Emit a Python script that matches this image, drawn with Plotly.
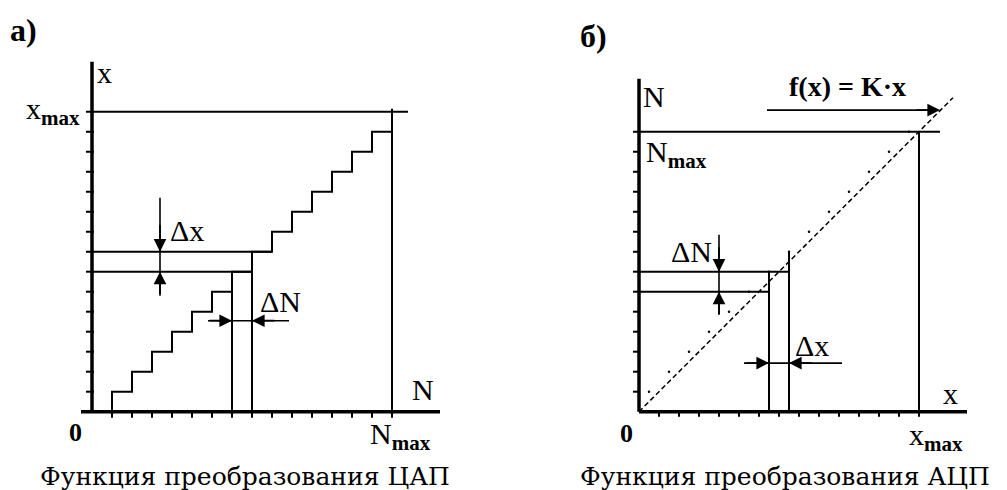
import plotly.graph_objects as go

# а) DAC transfer function (code N -> output x)
dac_code = [1, 2, 3, 4, 5, 6, 7, 8, 9, 10, 11, 12, 13, 14, 15]
dac_level = [0, 1, 2, 3, 4, 5, 6, 7, 8, 9, 10, 11, 12, 13, 14]
dac_ticks = [1, 2, 3, 4, 5, 6, 7, 8, 9, 10, 11, 12, 13, 14, 15]
dac_nmax = 15
dac_xmax = 15
dac_guide_codes = [7, 8]

# б) ADC transfer function (input x -> code N)
adc_ticks = [1, 2, 3, 4, 5, 6, 7, 8, 9, 10, 11, 12, 13, 14]
adc_xmax = 14
adc_nmax = 14
adc_K = 1
adc_line_x = [0, 15.7]
adc_dot_x = [0.5, 1.5, 2.5, 3.5, 4.5, 5.5, 6.5, 7.5, 8.5, 9.5, 10.5, 11.5, 12.5, 13.5]
adc_dot_N = [1, 2, 3, 4, 5, 6, 7, 8, 9, 10, 11, 12, 13, 14]
adc_guide_x = [6.5, 7.5]
adc_guide_N = [6, 7]

LBL = "Liberation Serif"
CAP = "DejaVu Serif"
BLK = "black"

# page body has an 8px margin, so the figure is a bit smaller than the window
W, H, OFF = 999, 482, 8

fig = go.Figure()


def seg(x0, y0, x1, y1, xa="x", ya="y", w=2, dash="solid"):
    fig.add_trace(go.Scatter(x=[x0, x1], y=[y0, y1], mode="lines", xaxis=xa, yaxis=ya,
                             line=dict(color=BLK, width=w, dash=dash), hoverinfo="skip"))


def ticks(vals, horiz, a, b, xa, ya):
    xs, ys = [], []
    for v in vals:
        if horiz:
            xs += [v, v, None]
            ys += [a, b, None]
        else:
            xs += [a, b, None]
            ys += [v, v, None]
    fig.add_trace(go.Scatter(x=xs, y=ys, mode="lines", xaxis=xa, yaxis=ya,
                             line=dict(color=BLK, width=2), hoverinfo="skip"))


def arrow(tip, tail, xa, ya):
    fig.add_annotation(x=tip[0], y=tip[1], ax=tail[0], ay=tail[1], xref=xa, yref=ya,
                       axref=xa, ayref=ya, text="", showarrow=True, arrowhead=2,
                       arrowsize=1.4, arrowwidth=1.8, arrowcolor=BLK)


def label(x, y, text, xa, ya, size=30, xanchor="center", bold=False, font=LBL):
    if bold:
        text = "<b>" + text + "</b>"
    fig.add_annotation(x=x, y=y, xref=xa, yref=ya, text=text, showarrow=False,
                       xanchor=xanchor, yanchor="middle", yshift=1,
                       font=dict(family=font, size=size, color=BLK))


def page_text(sx, sy, text, size, font, bold=False):
    if bold:
        text = "<b>" + text + "</b>"
    fig.add_annotation(x=(sx - OFF) / W, y=1 - (sy - OFF) / H, xref="paper", yref="paper",
                       text=text, showarrow=False, xanchor="left", yanchor="middle",
                       font=dict(family=font, size=size, color=BLK))


# ---------- panel а) ----------
seg(0, 0, 0, 17.5, w=3.5)
seg(-0.55, 0, 17.4, 0, w=3.5)
ticks(dac_ticks, False, -0.3, 0.1, "x", "y")
ticks(dac_ticks, True, 0, -0.3, "x", "y")

fig.add_trace(go.Scatter(x=dac_code, y=dac_level, mode="lines", line_shape="vh",
                         line=dict(color=BLK, width=2), hoverinfo="skip"))

# x_max and N_max lines
seg(0, dac_xmax, dac_nmax + 0.8, dac_xmax)
seg(dac_nmax, 0, dac_nmax, dac_xmax + 0.15)

# guides for two neighbouring codes
for k in dac_guide_codes:
    seg(0, k, k + 1, k)
    seg(k, 0, k, k)

lo, hi = dac_guide_codes
# Δx arrow
seg(3.4, 10.7, 3.4, 5.8, w=1.6)
arrow((3.4, hi), (3.4, hi + 1.4), "x", "y")
arrow((3.4, lo), (3.4, lo - 1.2), "x", "y")
label(3.8, 9.0, "Δx", "x", "y", xanchor="left")
# ΔN arrow
seg(5.8, 4.55, 9.85, 4.55, w=1.6)
arrow((lo, 4.55), (lo - 1.2, 4.55), "x", "y")
arrow((hi, 4.55), (hi + 1.2, 4.55), "x", "y")
label(8.3, 5.45, "ΔN", "x", "y", xanchor="left")

label(0.15, 16.9, "x", "x", "y", xanchor="left")
label(-0.5, 15.0, "x<sub><b>max</b></sub>", "x", "y", xanchor="right")
label(16.55, 1.05, "N", "x", "y")
label(15.4, -1.25, "N<sub><b>max</b></sub>", "x", "y")
label(-0.85, -1.1, "0", "x", "y", size=26, bold=True)

# ---------- panel б) ----------
seg(0, 0, 0, 16.65, "x2", "y2", w=3.5)
seg(0, 0, 16.4, 0, "x2", "y2", w=3.5)
ticks(adc_ticks, False, -0.3, 0, "x2", "y2")
ticks(adc_ticks, True, 0, -0.25, "x2", "y2")

fig.add_trace(go.Scatter(x=adc_line_x, y=[adc_K * v for v in adc_line_x], mode="lines",
                         xaxis="x2", yaxis="y2",
                         line=dict(color=BLK, width=1.5, dash="5px,3px"), hoverinfo="skip"))
fig.add_trace(go.Scatter(x=adc_dot_x, y=adc_dot_N, mode="markers", xaxis="x2", yaxis="y2",
                         marker=dict(color=BLK, size=2.5), hoverinfo="skip"))

seg(0, adc_nmax, adc_xmax + 1.05, adc_nmax, "x2", "y2")
seg(adc_xmax, 0, adc_xmax, adc_nmax, "x2", "y2")

for xg, ng in zip(adc_guide_x, adc_guide_N):
    seg(0, ng, xg, ng, "x2", "y2")
    seg(xg, 0, xg, ng + 1, "x2", "y2")

n_lo, n_hi = adc_guide_N
x_lo, x_hi = adc_guide_x
# ΔN arrow
seg(4.0, 8.85, 4.0, 4.85, "x2", "y2", w=1.6)
arrow((4.0, n_hi), (4.0, n_hi + 1.3), "x2", "y2")
arrow((4.0, n_lo), (4.0, n_lo - 1.2), "x2", "y2")
label(3.75, 7.95, "ΔN", "x2", "y2", xanchor="right")
# Δx arrow
seg(5.25, 2.43, 10.15, 2.43, "x2", "y2", w=1.6)
arrow((x_lo, 2.43), (x_lo - 1.2, 2.43), "x2", "y2")
arrow((x_hi, 2.43), (x_hi + 1.2, 2.43), "x2", "y2")
label(7.7, 3.25, "Δx", "x2", "y2", xanchor="left")

# f(x) = K·x pointer
seg(6.4, 15.08, 14.6, 15.08, "x2", "y2", w=1.6)
arrow((15.05, 15.08), (13.8, 15.08), "x2", "y2")
label(10.4, 16.2, "f(x) = K·x", "x2", "y2", size=28, bold=True)

label(0.1, 15.7, "N", "x2", "y2", xanchor="left")
label(0.25, 12.85, "N<sub><b>max</b></sub>", "x2", "y2", xanchor="left")
label(15.55, 0.85, "x", "x2", "y2")
label(14.85, -1.3, "x<sub><b>max</b></sub>", "x2", "y2")
label(-0.65, -1.15, "0", "x2", "y2", size=26, bold=True)

# panel letters and captions
page_text(8, 30, "а)", 32, LBL, bold=True)
page_text(578, 36, "б)", 32, LBL, bold=True)
page_text(38, 476, "Функция преобразования ЦАП", 25, CAP)
page_text(578, 476, "Функция преобразования АЦП", 25, CAP)

ax_common = dict(visible=False, fixedrange=True)
y_rng = [(411.7 - 490) / 20, (411.7 - OFF) / 20]
fig.update_layout(
    width=W, height=H, margin=dict(l=0, r=0, t=0, b=0),
    paper_bgcolor="white", plot_bgcolor="white", showlegend=False,
    xaxis=dict(domain=[0, 0.5], range=[(OFF - 92) / 20, (OFF + W / 2 - 92) / 20], **ax_common),
    yaxis=dict(domain=[0, 1], range=y_rng, **ax_common),
    xaxis2=dict(domain=[0.5, 1], range=[(OFF + W / 2 - 639) / 20, (OFF + W - 639) / 20],
                anchor="y2", **ax_common),
    yaxis2=dict(domain=[0, 1], range=y_rng, anchor="x2", **ax_common),
)

fig.write_html("out.html")
